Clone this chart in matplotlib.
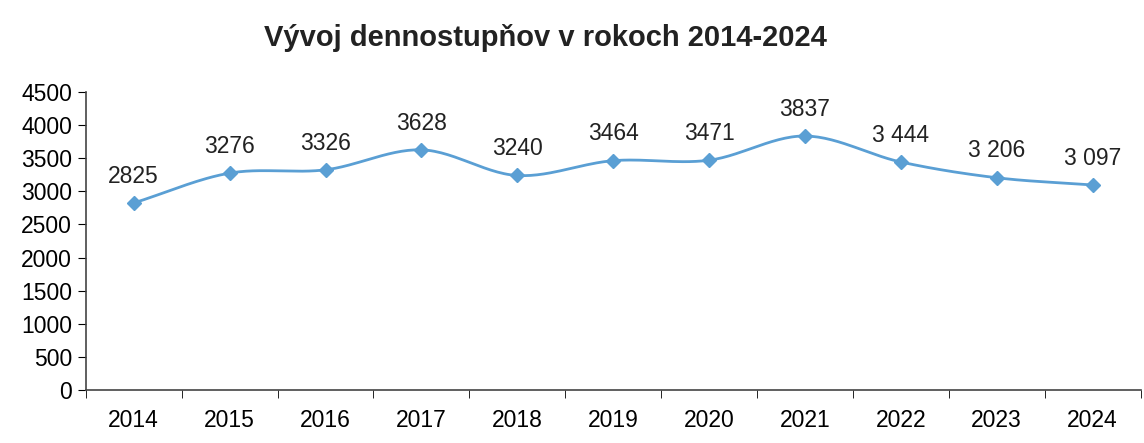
#!/usr/bin/env python
"""
Line chart of heating degree days (dennostupne) 2014-2024
"""

import numpy as np
import matplotlib.pyplot as plt

plt.rcParams['font.family'] = ['Liberation Sans', 'DejaVu Sans']

# data
YEARS = ['2014', '2015', '2016', '2017', '2018', '2019',
         '2020', '2021', '2022', '2023', '2024']
VALUES = [2825, 3276, 3326, 3628, 3240, 3464, 3471, 3837, 3444, 3206, 3097]
LABELS = ['2825', '3276', '3326', '3628', '3240', '3464', '3471', '3837',
          '3 444', '3 206', '3 097']
Y_TICKS = [0, 500, 1000, 1500, 2000, 2500, 3000, 3500, 4000, 4500]

LINE_COLOR = '#5a9fd4'


def smooth(x, y, steps=30):
    # catmull-rom curve through the points, like the excel smoothed line
    x = np.asarray(x, float)
    y = np.asarray(y, float)
    px = np.concatenate([[2 * x[0] - x[1]], x, [2 * x[-1] - x[-2]]])
    py = np.concatenate([[2 * y[0] - y[1]], y, [2 * y[-1] - y[-2]]])
    xs, ys = [], []
    t = np.linspace(0, 1, steps)
    for i in range(1, len(px) - 2):
        for p, out in ((px, xs), (py, ys)):
            p0, p1, p2, p3 = p[i - 1], p[i], p[i + 1], p[i + 2]
            out.append(0.5 * (2 * p1 + (-p0 + p2) * t
                              + (2 * p0 - 5 * p1 + 4 * p2 - p3) * t ** 2
                              + (-p0 + 3 * p1 - 3 * p2 + p3) * t ** 3))
    return np.concatenate(xs), np.concatenate(ys)


def plot():
    fig = plt.figure(figsize=(11.44, 4.43), dpi=100)
    ax = fig.add_axes([0.075, 0.12, 0.922, 0.672])

    x = np.arange(len(YEARS))
    sx, sy = smooth(x, VALUES)
    ax.plot(sx, sy, color=LINE_COLOR, lw=2)
    ax.plot(x, VALUES, ls='none', marker='D', ms=7, color=LINE_COLOR)

    for xi, v, lab in zip(x, VALUES, LABELS):
        ax.annotate(lab, (xi, v), xytext=(0, 11), textcoords='offset points',
                    ha='center', va='bottom', fontsize=16.5, color='#222222')

    ax.set_xlim(-0.5, len(YEARS) - 0.5)
    ax.set_ylim(0, 4500)
    ax.set_yticks(Y_TICKS)
    ax.set_xticks(x)
    ax.set_xticklabels(YEARS)
    # tick marks sit between categories
    ax.set_xticks(np.arange(-0.5, len(YEARS), 1), minor=True)
    ax.tick_params(axis='x', which='major', length=0, pad=14, labelsize=16.5)
    ax.tick_params(axis='x', which='minor', length=6, direction='out')
    ax.tick_params(axis='y', length=6, direction='out', labelsize=16.5, pad=4)

    for s in ('top', 'right'):
        ax.spines[s].set_visible(False)
    for s in ('left', 'bottom'):
        ax.spines[s].set_color('#444444')
        ax.spines[s].set_linewidth(1.2)

    fig.text(0.477, 0.915, 'Vývoj dennostupňov v rokoch 2014-2024',
             ha='center', va='center', fontsize=21, fontweight='bold',
             color='#222222')

    fig.savefig('out.png', dpi=100)


if __name__ == "__main__":
    plot()
